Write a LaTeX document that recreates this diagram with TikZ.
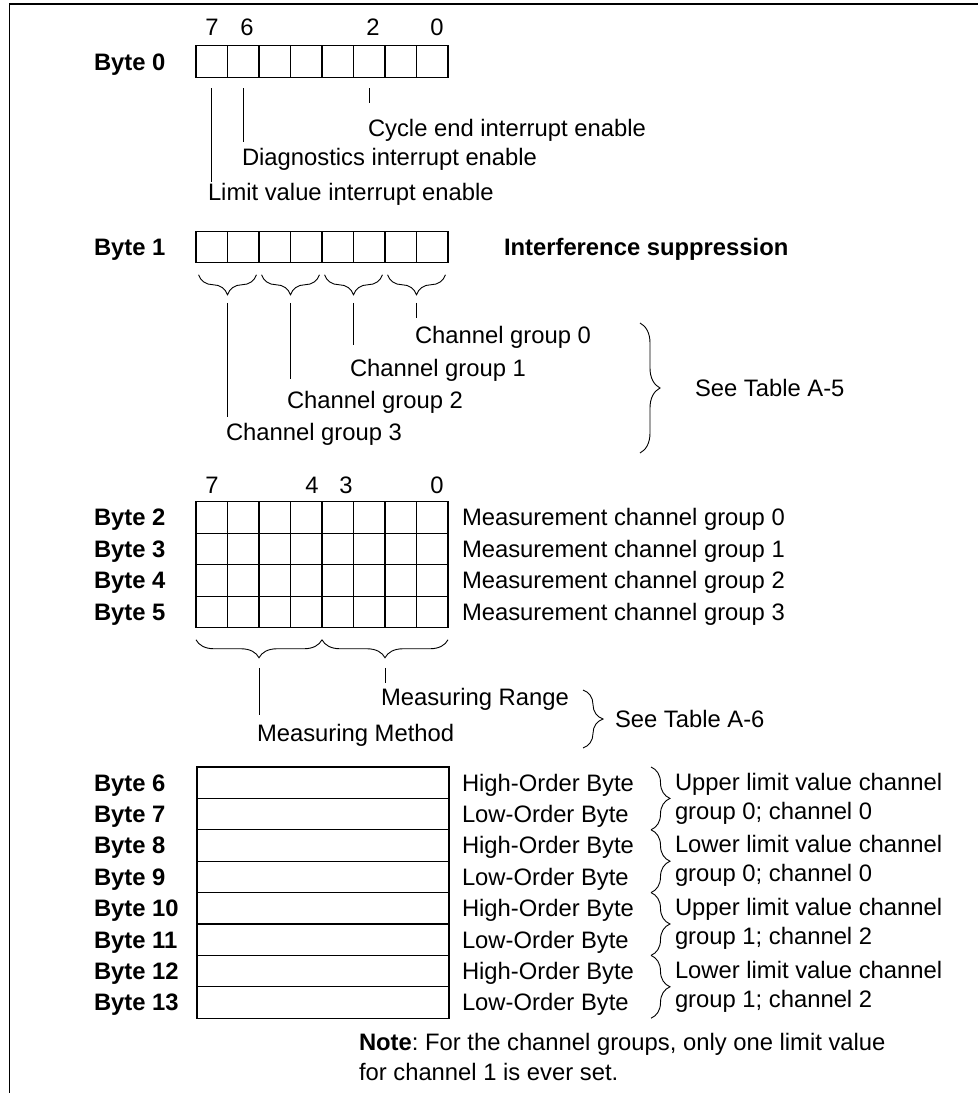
\documentclass[tikz,border=0pt]{standalone}
\usepackage{fontspec}
\setmainfont{Liberation Sans}
\usetikzlibrary{decorations.pathreplacing,positioning}
\frenchspacing

\begin{document}
\begin{tikzpicture}[
  x=1pt, y=-1pt, line join=miter,
  every node/.style={inner sep=0pt, outer sep=0pt,
                     font=\fontsize{23.8}{29}\selectfont},
  cell/.style={draw, line width=1.3pt, minimum width=31.5pt, minimum height=31.5pt},
  wide/.style={draw, line width=1.3pt, minimum width=252pt, minimum height=31.4pt},
  lbl/.style={anchor=base west, font=\fontsize{23.8}{29}\selectfont\bfseries},
  txt/.style={anchor=base west},
  lead/.style={line width=1pt},
  hbrc/.style={line width=0.9pt, decorate, decoration={brace, mirror, amplitude=#1}},
  vbrc/.style={line width=0.9pt, decorate, decoration={brace, amplitude=#1}}
]

  \useasboundingbox (0,0) rectangle (978,1093);

  % ── Frame ─────────────────────────────────────────────────────────────────
  \draw[line width=1.6pt] (9.5,1093) -- (9.5,4) -- (978,4);

  % ── Byte 0 ────────────────────────────────────────────────────────────────
  \node[lbl] (l0) at (94,70.4) {Byte 0};
  \foreach \i in {0,...,7}
    \node[cell] (b0-\i) at ({196+(7-\i)*31.5+15.75},61.5) {};
  \foreach \n/\x in {7/212, 6/247, 2/373, 0/437}
    \node (n0-\n) at (\x,27) {\n};

  \node[txt] (cyc)  at (368,136.4) {Cycle end interrupt enable};
  \node[txt] (diag) at (242,165.4) {Diagnostics interrupt enable};
  \node[txt] (lim)  at (208,200.4) {Limit value interrupt enable};

  \draw[lead] ([yshift=-11pt]b0-2.south) -- ([yshift=16pt]b0-2.south |- cyc.north);
  \draw[lead] ([yshift=-11pt]b0-6.south) -- ([yshift=6pt]b0-6.south |- diag.north);
  \draw[lead] ([yshift=-11pt]b0-7.south) -- ([yshift=1pt]b0-7.south |- lim.north);

  % ── Byte 1 ────────────────────────────────────────────────────────────────
  \node[lbl] (l1) at (94,255.4) {Byte 1};
  \foreach \i in {0,...,7}
    \node[cell] (b1-\i) at ({196+(7-\i)*31.5+15.75},247) {};
  \node[lbl] (intf) at (504,255.4) {Interference suppression};

  \node[txt] (g0) at (415,343.4) {Channel group 0};
  \node[txt] (g1) at (350,376.4) {Channel group 1};
  \node[txt] (g2) at (287,408.4) {Channel group 2};
  \node[txt] (g3) at (226,440.4) {Channel group 3};

  % braces over bit pairs, leader from each tip
  \foreach \g/\a/\b/\gap in {3/7/6/6.5, 2/5/4/12.5, 1/3/2/14.5, 0/1/0/8.5} {
    \draw[hbrc=20] ([xshift=2.5pt,yshift=-12pt]b1-\a.south west)
      -- ([xshift=-2.5pt,yshift=-12pt]b1-\b.south east);
    \draw[lead] ([yshift=-40pt]b1-\a.south east)
      -- ([yshift=\gap pt]b1-\a.south east |- g\g.north);
  }

  \draw[vbrc=20] (640,323) -- (640,453) coordinate[midway, xshift=20pt] (a5);
  \node[right=35pt of a5] (seea5) {See Table A-5};

  % ── Bytes 2 to 5 ──────────────────────────────────────────────────────────
  \foreach \n/\x in {7/212, 4/312, 3/346, 0/437}
    \node (n2-\n) at (\x,485) {\n};

  \foreach \r in {2,...,5} {
    \pgfmathtruncatemacro\grp{\r-2}
    \node[lbl] (l\r) at (94,{517.5+(\r-2)*31.5+8.4}) {Byte \r};
    \foreach \i in {0,...,7}
      \node[cell] (b\r-\i) at ({196+(7-\i)*31.5+15.75},{517.5+(\r-2)*31.5}) {};
    \node[txt] (m\r) at (462,{517.5+(\r-2)*31.5+8.4}) {Measurement channel group \grp};
  }

  \draw[hbrc=18] ([yshift=-12pt]b5-7.south west) -- ([yshift=-12pt]b5-4.south east);
  \draw[hbrc=18] ([yshift=-12pt]b5-3.south west) -- ([yshift=-12pt]b5-0.south east);

  \node[txt] (rng)  at (381,705.4) {Measuring Range};
  \node[txt] (meth) at (257,741.4) {Measuring Method};
  \draw[lead] ([yshift=-40pt]b5-6.south east) -- ([yshift=9pt]b5-6.south east |- meth.north);
  \draw[lead] ([yshift=-40pt]b5-2.south east) -- ([yshift=5pt]b5-2.south east |- rng.north);

  \draw[vbrc=20] (583,690) -- (583,748) coordinate[midway, xshift=20pt] (a6);
  \node[right=12pt of a6] (seea6) {See Table A-6};

  % ── Bytes 6 to 13 ─────────────────────────────────────────────────────────
  \foreach \r in {6,...,13} {
    \node[lbl] (l\r) at (94,{782.7+(\r-6)*31.4+8.4}) {Byte \r};
    \node[wide] (w\r) at (323,{782.7+(\r-6)*31.4}) {};
    \node[txt] (o\r) at (462,{782.7+(\r-6)*31.4+8.4})
      {\ifodd\r Low-Order Byte\else High-Order Byte\fi};
  }

  \foreach \k in {0,...,3}
    \draw[vbrc=19] (651,{767+\k*62.8}) -- (651,{767+(\k+1)*62.8})
      coordinate[midway, xshift=19pt] (lt\k);

  \node[right=5pt of lt0, align=left] (lim0) {Upper limit value channel\\group 0; channel 0};
  \node[right=5pt of lt1, align=left] (lim1) {Lower limit value channel\\group 0; channel 0};
  \node[right=5pt of lt2, align=left] (lim2) {Upper limit value channel\\group 1; channel 2};
  \node[right=5pt of lt3, align=left] (lim3) {Lower limit value channel\\group 1; channel 2};

  % note
  \node[txt] (note)  at (359,1050.4) {\textbf{Note}: For the channel groups, only one limit value};
  \node[txt] (note2) at (359,1080.4) {for channel 1 is ever set.};

\end{tikzpicture}
\end{document}
